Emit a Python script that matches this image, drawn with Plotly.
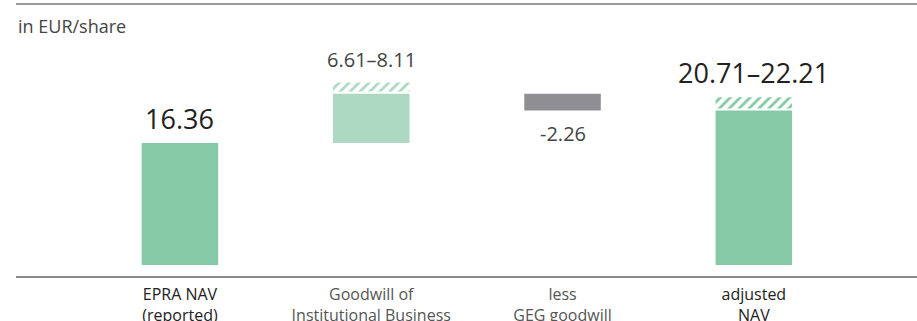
import plotly.graph_objects as go

# ---- data ----
categories = ["EPRA NAV<br>(reported)", "Goodwill of<br>Institutional Business", "less<br>GEG goodwill", "adjusted<br>NAV"]
nav_reported = 16.36
goodwill_low = 6.61
goodwill_high = 8.11
geg_goodwill = -2.26
adjusted_low = 20.71
adjusted_high = 22.21
value_labels = ["16.36", "6.61–8.11", "-2.26", "20.71–22.21"]
unit_label = "in EUR/share"

# ---- styles ----
GREEN = "#85C9A6"
LIGHT_GREEN = "#ADD9C3"
GREY_BAR = "#8F8F93"
GAP = 0.28
BAR_W = 0.4
FONT = "Open Sans"

xs = [0, 1, 2, 3]
goodwill_top = nav_reported + goodwill_low
solid_base = [0, nav_reported, goodwill_top + geg_goodwill, 0]
solid_h = [nav_reported, goodwill_low, -geg_goodwill, adjusted_low]
solid_col = [GREEN, LIGHT_GREEN, GREY_BAR, GREEN]

fig = go.Figure()
fig.add_trace(go.Bar(x=xs, y=solid_h, base=solid_base, width=BAR_W,
                     marker=dict(color=solid_col, line=dict(width=0)),
                     hoverinfo="skip"))
hatch_x = [1, 3]
hatch_base = [goodwill_top + GAP, adjusted_low + GAP]
hatch_h = [goodwill_high - goodwill_low - GAP, adjusted_high - adjusted_low]
hatch_col = [LIGHT_GREEN, GREEN]
fig.add_trace(go.Bar(x=hatch_x, y=hatch_h, base=hatch_base, width=BAR_W,
                     marker=dict(color=hatch_col, line=dict(width=0),
                                 pattern=dict(shape="/", fgcolor="#ffffff", bgcolor=hatch_col,
                                              fgopacity=1, size=7, solidity=0.4,
                                              fillmode="replace")),
                     hoverinfo="skip"))

# value labels
tops = [nav_reported, goodwill_top + GAP + hatch_h[0], goodwill_top + geg_goodwill, adjusted_low + GAP + hatch_h[1]]
sizes = [27, 20, 20, 27]
colors = ["#222222", "#444444", "#444444", "#222222"]
for i, (t, lab) in enumerate(zip(tops, value_labels)):
    below = i == 2
    fig.add_annotation(x=xs[i], y=t, text=lab, showarrow=False,
                       yanchor="top" if below else "bottom",
                       yshift=-8 if below else (4 if sizes[i] == 27 else 7),
                       font=dict(family=FONT, size=sizes[i], color=colors[i]))

fig.add_annotation(x=0, y=1, xref="paper", yref="paper", xanchor="left", yanchor="top",
                   xshift=0, yshift=-12, text=unit_label, showarrow=False,
                   font=dict(family=FONT, size=18, color="#444444"))

tick_colors = ["#222222", "#555555", "#555555", "#222222"]
ticktext = [f'<span style="color:{c}">{t}</span>' for c, t in zip(tick_colors, categories)]

fig.add_shape(type="line", xref="paper", yref="paper", x0=0, x1=1, y0=0.9855, y1=0.9855,
              line=dict(color="#7a7a7a", width=1.5))

fig.update_layout(
    width=917, height=321, margin=dict(l=16, r=0, t=0, b=45, autoexpand=False),
    paper_bgcolor="white", plot_bgcolor="white", showlegend=False, barmode="overlay",
    xaxis=dict(range=[-0.857, 3.853], tickvals=xs, ticktext=ticktext, showgrid=False,
               zeroline=False, showline=True, linecolor="#8a8a8a", linewidth=2, ticks="",
               automargin=False,
               tickfont=dict(family=FONT, size=16, color="#555555"), ticklabelstandoff=3),
    yaxis=dict(range=[-1.475, 35.52], visible=False),
)
fig.write_html("out.html")
